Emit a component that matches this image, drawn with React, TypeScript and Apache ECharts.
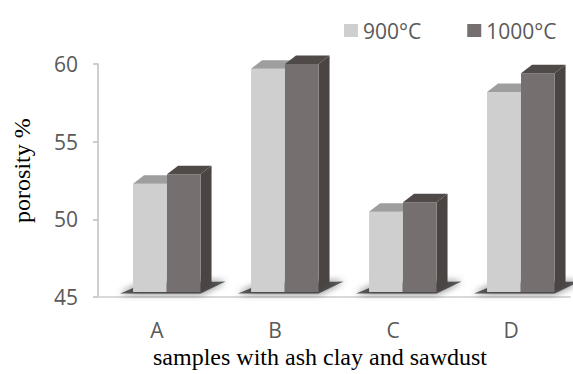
import React, { useEffect, useRef } from "react";
import * as echarts from "echarts";

const categories = ["A", "B", "C", "D"];
const series900 = [52.3, 59.7, 50.5, 58.2];
const series1000 = [52.9, 60.0, 51.1, 59.4];
const seriesNames = ["900°C", "1000°C"];
const yTicks = { min: 45, max: 60, interval: 5 };

const palette = {
  light: { front: "#d0cfcf", top: "#9e9e9e", side: "#8a8888" },
  dark: { front: "#75706f", top: "#4f4a48", side: "#4a4543" },
};

const DX = 11;
const DY = 8.5;

function makeBarRenderer(kind: "light" | "dark") {
  return (params: any, api: any) => {
    const cat = api.value(0);
    const val = api.value(1);
    const top = api.coord([cat, val]);
    const base = api.coord([cat, yTicks.min]);
    const bw = api.size([1, 0])[0];
    const w = 0.284 * bw;
    const x0 = top[0] + (kind === "light" ? -0.203 * bw : 0.085 * bw);
    const x1 = x0 + w;
    const yt = top[1];
    const yb = base[1] - 5;
    const c = palette[kind];
    return {
      type: "group",
      children: [
        {
          type: "polygon",
          shape: { points: [[x1, yt], [x1 + DX, yt - DY], [x1 + DX, yb - DY], [x1, yb]] },
          style: { fill: c.side },
        },
        {
          type: "rect",
          shape: { x: x0, y: yt, width: w, height: yb - yt },
          style: { fill: c.front },
        },
        {
          type: "polygon",
          shape: { points: [[x0, yt], [x0 + DX, yt - DY], [x1 + DX, yt - DY], [x1, yt]] },
          style: { fill: c.top },
        },
      ],
    };
  };
}

function shadowRenderer(params: any, api: any) {
  const cat = api.value(0);
  const base = api.coord([cat, yTicks.min]);
  const bw = api.size([1, 0])[0];
  const L = base[0] - 0.203 * bw;
  const R = base[0] + 0.369 * bw;
  const b = base[1] - 5;
  return {
    type: "polygon",
    shape: {
      points: [
        [L - 13, b + 1.5],
        [R, b + 1.5],
        [R + DX + 14, b - DY - 2],
        [L + DX, b - DY],
      ],
    },
    style: {
      fill: "rgba(45,45,45,0.75)",
      shadowBlur: 7,
      shadowColor: "rgba(30,30,30,0.9)",
    },
  };
}

export default function App() {
  const ref = useRef<HTMLDivElement>(null);
  useEffect(() => {
    if (!ref.current) return;
    const chart = echarts.init(ref.current, undefined, { renderer: "svg" });
    chart.setOption({
      animation: false,
      backgroundColor: "#ffffff",
      legend: {
        data: seriesNames,
        left: 339,
        top: 15,
        icon: "rect",
        itemWidth: 14,
        itemHeight: 13,
        itemGap: 46,
        textStyle: { fontFamily: "Open Sans", fontSize: 21, color: "#595959" },
      },
      grid: { left: 98, right: 3, top: 64, bottom: 74 },
      xAxis: {
        type: "category",
        data: categories,
        axisLine: { show: true, lineStyle: { color: "#d9d9d9", width: 2 } },
        axisTick: { show: false },
        axisLabel: { fontFamily: "Open Sans", fontSize: 21, color: "#595959", margin: 22 },
        name: "samples with ash clay and sawdust",
        nameLocation: "middle",
        nameGap: 44,
        nameTextStyle: {
          fontFamily: "Liberation Serif",
          fontSize: 24,
          color: "#000000",
          padding: [0, 28, 0, 0],
        },
      },
      yAxis: {
        type: "value",
        min: yTicks.min,
        max: yTicks.max,
        interval: yTicks.interval,
        axisLine: { show: true, lineStyle: { color: "#bfbfbf", width: 1.5 } },
        axisTick: { show: true, length: 5, lineStyle: { color: "#bfbfbf", width: 1.5 } },
        splitLine: { show: false },
        axisLabel: { fontFamily: "Open Sans", fontSize: 21, color: "#595959", margin: 20 },
        name: "porosity %",
        nameLocation: "middle",
        nameRotate: 90,
        nameGap: 64,
        nameTextStyle: {
          fontFamily: "Liberation Serif",
          fontSize: 24,
          color: "#000000",
          padding: [0, 0, 0, 20],
        },
      },
      series: [
        {
          name: "shadow",
          type: "custom",
          z: 1,
          renderItem: shadowRenderer,
          data: categories.map((_, i) => [i, yTicks.min]),
          silent: true,
        },
        {
          name: seriesNames[0],
          type: "custom",
          z: 2,
          itemStyle: { color: palette.light.front },
          renderItem: makeBarRenderer("light"),
          data: series900.map((v, i) => [i, v]),
        },
        {
          name: seriesNames[1],
          type: "custom",
          z: 3,
          itemStyle: { color: palette.dark.front },
          renderItem: makeBarRenderer("dark"),
          data: series1000.map((v, i) => [i, v]),
        },
      ],
    });
    return () => chart.dispose();
  }, []);
  return <div ref={ref} style={{ width: 573, height: 374, position: "absolute", left: 0, top: 0 }} />;
}
